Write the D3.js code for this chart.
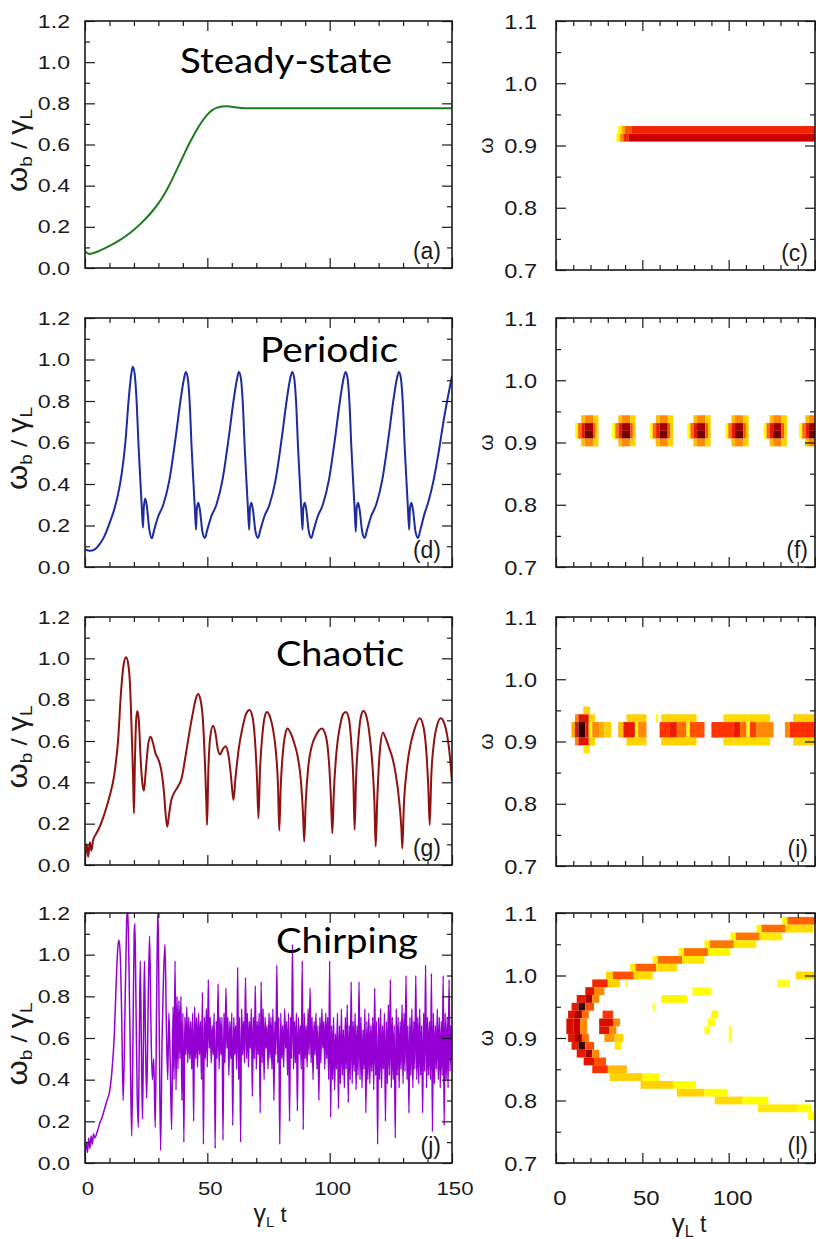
<!DOCTYPE html>
<html><head><meta charset="utf-8">
<script src="https://cdn.jsdelivr.net/npm/d3@7/dist/d3.min.js"></script>
<style>
html,body{margin:0;padding:0;background:#fff;}
svg{display:block;font-family:'Liberation Sans',Arial,sans-serif;}
</style></head><body>
<svg id="chart" width="816" height="1239"></svg>
<script>
// ---------------- DATA ----------------
const timeMajor=[0,50,100,150];
const timeMinor=[10,20,30,40,60,70,80,90,110,120,130,140];
const timeLabelsLeft=[0,50,100,150];
const timeLabelsRight=[0,50,100];
const ampMajor=[0,0.2,0.4,0.6,0.8,1.0,1.2];
const ampMinor=[0.1,0.3,0.5,0.7,0.9,1.1];
const freqMajor=[0.7,0.8,0.9,1.0,1.1];
const freqMinor=[0.75,0.85,0.95,1.05];
const regimeNames=["Steady-state","Periodic","Chaotic","Chirping"];
const ampLetters=["(a)","(d)","(g)","(j)"];
const freqLetters=["(c)","(f)","(i)","(l)"];

// (a) steady-state
const steadyT=[0,1.5,3,5,8,11,14,17,20,23,26,28,30,32,34,36,38,40,42,44,46,48,50,52,54,56,58,60,63,67,80,100,120,150];
const steadyV=[0.082,0.069,0.071,0.079,0.095,0.113,0.134,0.158,0.186,0.218,0.255,0.283,0.314,0.35,0.392,0.44,0.49,0.54,0.59,0.635,0.678,0.714,0.745,0.767,0.779,0.785,0.786,0.783,0.779,0.776,0.776,0.776,0.776,0.776];

// (d) periodic
const periodicPts=[[0,0.085],[2,0.078],[4,0.085],[6,0.11],[8,0.15],[10,0.21],[12,0.28],[13.5,0.35],[15,0.45],[16.5,0.6],[17.8,0.8],[18.8,0.92],[19.5,0.965],
[20.3,0.93],[21.1,0.8],[21.9,0.58],[22.7,0.4],[23.2,0.29],[23.7,0.19],[24.0,0.28],[24.6,0.33],[25.2,0.3],[26.3,0.18],[27.3,0.138],[28.3,0.18],[29.8,0.24],[32,0.3],[34.5,0.42],[37,0.62],[39,0.8],[40.5,0.91],[41.2,0.94],
[42.0,0.91],[42.8,0.79],[43.6,0.57],[44.4,0.39],[44.9,0.28],[45.4,0.18],[45.7,0.28],[46.3,0.31],[46.9,0.28],[48.0,0.17],[49.0,0.14],[50.0,0.18],[51.5,0.24],[53.7,0.3],[56.2,0.42],[58.7,0.62],[60.7,0.8],[62.2,0.91],[62.9,0.94],
[63.7,0.91],[64.5,0.79],[65.3,0.57],[66.1,0.39],[66.6,0.28],[67.1,0.18],[67.4,0.28],[68.0,0.31],[68.6,0.28],[69.7,0.17],[70.7,0.14],[71.7,0.18],[73.2,0.24],[75.4,0.3],[77.9,0.42],[80.4,0.62],[82.4,0.8],[83.9,0.91],[84.7,0.94],
[85.5,0.91],[86.3,0.79],[87.1,0.57],[87.9,0.39],[88.4,0.28],[88.9,0.18],[89.2,0.28],[89.8,0.31],[90.4,0.28],[91.5,0.17],[92.5,0.14],[93.5,0.18],[95.0,0.24],[97.2,0.3],[99.7,0.42],[102.2,0.62],[104.2,0.8],[105.7,0.91],[106.5,0.94],
[107.3,0.91],[108.1,0.79],[108.9,0.57],[109.7,0.39],[110.2,0.28],[110.7,0.17],[111.0,0.28],[111.6,0.31],[112.2,0.28],[113.3,0.17],[114.3,0.14],[115.3,0.18],[116.8,0.24],[119.0,0.3],[121.5,0.42],[124.0,0.62],[126.0,0.8],[127.5,0.91],[128.3,0.94],
[129.1,0.91],[129.9,0.79],[130.7,0.57],[131.5,0.39],[132.0,0.28],[132.5,0.18],[132.8,0.28],[133.4,0.31],[134.0,0.28],[135.1,0.17],[136.1,0.14],[137.1,0.18],[138.6,0.25],[140.5,0.32],[142.5,0.42],[144.5,0.55],[146.5,0.7],[148.5,0.83],[150,0.92]];

// (g) chaotic
const chaoticPts=[[0,0.03],[0.7,0.1],[1.3,0.04],[2,0.11],[2.6,0.07],[3.3,0.12],[4.5,0.15],[6,0.185],[8,0.25],[10,0.33],[12,0.44],[13.5,0.6],[14.8,0.85],[15.8,0.97],[16.8,1.005],[17.7,0.97],[18.5,0.85],[19.2,0.6],[19.7,0.4],[20.0,0.25],[20.4,0.5],[20.9,0.7],[21.4,0.745],[22.0,0.7],[22.8,0.5],[23.5,0.39],[24.1,0.36],[24.8,0.45],[25.8,0.58],[26.8,0.62],[27.8,0.59],[28.8,0.54],[30,0.51],[31.3,0.45],[32.3,0.35],[33.0,0.24],[33.6,0.185],[34.3,0.24],[35.2,0.31],[36.5,0.35],[38,0.38],[39.5,0.42],[41,0.52],[42.5,0.63],[44,0.73],[45.2,0.8],[46.2,0.827],[47.2,0.8],[48.2,0.7],[49.0,0.5],[49.6,0.3],[49.9,0.194],[50.4,0.45],[51.2,0.62],[52.3,0.674],[53.3,0.64],[54.3,0.56],[55.2,0.535],[56.3,0.56],[57.5,0.575],[58.5,0.54],[59.5,0.45],[60.2,0.36],[60.7,0.315],[61.5,0.42],[62.8,0.56],[64.3,0.66],[65.8,0.73],[67.2,0.75],[68.4,0.72],[69.5,0.6],[70.3,0.42],[70.9,0.226],[71.5,0.45],[72.5,0.63],[73.5,0.72],[74.4,0.74],[75.5,0.72],[76.8,0.66],[78,0.55],[78.9,0.38],[79.4,0.166],[80,0.38],[81,0.56],[82,0.64],[82.8,0.661],[84,0.64],[85.5,0.59],[87,0.52],[88.3,0.4],[89.1,0.25],[89.6,0.113],[90.2,0.3],[91.3,0.48],[92.8,0.58],[94.5,0.63],[96.8,0.66],[98.5,0.62],[99.7,0.5],[100.5,0.33],[101.1,0.153],[101.7,0.35],[102.8,0.55],[104.2,0.67],[105.5,0.73],[106.6,0.74],[107.8,0.71],[108.9,0.58],[109.7,0.4],[110.2,0.17],[110.8,0.42],[111.8,0.62],[112.8,0.72],[113.8,0.745],[115,0.72],[116.3,0.63],[117.5,0.48],[118.3,0.3],[118.8,0.089],[119.4,0.3],[120.5,0.55],[121.8,0.64],[123,0.61],[124.5,0.56],[125.6,0.52],[127,0.44],[128.5,0.3],[129.3,0.18],[129.7,0.08],[130.3,0.28],[131.5,0.46],[133,0.58],[134.5,0.65],[136.8,0.71],[138.3,0.67],[139.5,0.55],[140.3,0.38],[140.9,0.194],[141.5,0.42],[142.7,0.6],[144,0.68],[145.4,0.71],[146.7,0.69],[148,0.63],[149.2,0.52],[150,0.4]];

// (j) chirping: early part as (t, value) pairs, then a dense sampled part
const chirpEarly=[[0,0.03],[0.5,0.1],[1,0.05],[1.5,0.12],[2,0.07],[2.5,0.13],[3,0.09],[3.5,0.14],[4,0.12],[5,0.15],[6,0.19],[7,0.22],[8,0.26],[9,0.3],[10,0.34],[11,0.44],[12,0.62],[12.8,0.88],[13.4,1.03],[13.9,1.07],[14.4,1.0],[15.0,0.7],[15.6,0.3],[16.3,0.7],[17.0,1.15],[17.4,1.23],[17.9,1.0],[18.6,0.45],[19.1,0.13],[19.6,0.6],[20.1,1.1],[20.4,1.15],[20.8,0.8],[21.3,0.35],[21.8,0.17],[22.2,0.6],[22.6,0.97],[23.0,0.6],[23.5,0.21],[23.9,0.6],[24.3,0.97],[24.7,0.6],[25.2,0.31],[25.8,0.75],[26.4,1.09],[26.9,0.7],[27.5,0.4],[28.1,0.5],[28.7,0.17],[29.3,0.8],[29.8,1.23],[30.3,0.7],[30.9,0.06],[31.5,0.6],[32.1,0.9],[32.7,1.05],[33.2,0.7],[33.8,0.4],[34.3,0.72],[34.8,0.5],[35.4,0.16]];
const chirpDenseStart=36, chirpDenseStep=0.4;
const chirpDense=[
0.75,0.40,0.97,0.35,0.80,0.45,0.78,0.50,0.80,0.30,0.72,0.10,0.70,0.52,0.75,0.48,0.70,0.50,0.68,0.45,0.72,0.20,0.75,0.50,0.70,
0.46,0.72,0.52,0.68,0.40,0.82,0.09,0.70,0.50,0.74,0.46,0.88,0.55,0.70,0.48,0.66,0.52,0.72,0.07,0.68,0.50,0.86,0.45,0.70,0.52,
0.70,0.11,0.72,0.48,0.84,0.55,0.70,0.42,0.68,0.50,0.72,0.18,0.70,0.52,0.66,0.45,0.94,0.40,0.70,0.10,0.74,0.52,0.68,0.48,0.89,
0.50,0.72,0.46,0.68,0.55,0.74,0.32,0.70,0.50,0.85,0.45,0.68,0.52,0.72,0.24,0.87,0.48,0.74,0.40,0.70,0.55,0.66,0.45,0.72,0.50,
0.70,0.45,0.74,0.30,0.68,0.52,0.95,0.48,0.70,0.09,0.72,0.50,0.66,0.46,0.74,0.55,0.68,0.42,0.72,0.20,0.70,0.50,1.05,0.45,0.68,
0.48,0.72,0.25,0.70,0.52,0.66,0.45,0.97,0.16,0.72,0.50,0.66,0.46,0.74,0.52,0.84,0.48,0.70,0.40,0.68,0.52,0.72,0.45,0.66,0.30,
0.70,0.48,0.74,0.55,0.68,0.45,0.72,0.50,0.70,0.40,0.97,0.22,0.66,0.40,0.70,0.35,0.62,0.45,0.72,0.26,0.66,0.38,0.74,0.42,0.64,
0.36,0.70,0.45,0.76,0.29,0.66,0.40,0.87,0.38,0.68,0.44,0.72,0.35,0.66,0.42,0.87,0.40,0.70,0.36,0.64,0.45,0.74,0.24,0.68,0.40,
0.72,0.38,0.66,0.44,0.70,0.35,0.84,0.42,0.68,0.09,0.70,0.40,0.74,0.36,0.66,0.45,0.72,0.20,0.68,0.38,0.76,0.42,0.88,0.36,0.70,
0.40,0.66,0.12,0.74,0.42,0.70,0.36,0.68,0.45,0.76,0.38,0.72,0.44,0.90,0.40,0.66,0.24,0.70,0.42,0.74,0.36,0.68,0.45,0.90,0.40,
0.70,0.38,0.74,0.42,0.66,0.24,0.72,0.44,0.95,0.36,0.70,0.42,0.68,0.40,0.91,0.15,0.72,0.38,0.66,0.45,0.74,0.40,0.70,0.36,0.68,
0.42,0.90,0.18,0.72,0.40,0.70,0.36,0.88,0.44,0.66,0.50];

// spectrogram cells: [t0, t1, omegaLow, omegaHigh, intensity]
const omegaBin=0.0125;
const cSegments=[[35,37,0.9125,0.9125,0.22],[37,39,0.9125,0.9125,0.45],[39,42,0.9125,0.9125,0.65],[42,150,0.9125,0.9125,0.8],
[36,38,0.925,0.925,0.22],[38,40,0.925,0.925,0.4],[40,44,0.925,0.925,0.55],[44,150,0.925,0.925,0.66]];
const fCenters=[19.6,41.1,62.8,84.6,106.6,128.7,149.4];
const fProfile=[[-8.6,-6.8,0.9125,0.925,0.2],[-6.8,-4.8,0.9125,0.925,0.5],[-4.8,-2.9,0.9125,0.925,0.7],[-2.9,1.9,0.9125,0.9125,0.92],[-2.9,1.9,0.925,0.925,0.86],[1.9,3.4,0.9125,0.925,0.55],[3.4,5.0,0.9125,0.925,0.32],
[-5.0,-2.9,0.9,0.9,0.35],[-2.9,1.9,0.9,0.9,0.45],[1.9,5.0,0.9,0.9,0.3],
[-5.0,-2.9,0.9375,0.9375,0.35],[-2.9,1.9,0.9375,0.9375,0.45],[1.9,5.0,0.9375,0.9375,0.3]];
const iSegments=[[9,11,0.9125,0.925,0.4],[11,13,0.9125,0.925,0.72],[13,17,0.9125,0.925,0.98],[17,19,0.9125,0.925,0.7],[19,21,0.9125,0.925,0.22],[21,25,0.9125,0.925,0.45],[25,28,0.9125,0.925,0.38],[28,32,0.9125,0.925,0.3],
[11,13,0.9,0.9,0.45],[13,19,0.9,0.9,0.72],[19,22.6,0.9,0.9,0.3],
[11,13,0.9375,0.9375,0.45],[13,19,0.9375,0.9375,0.72],[19,22.6,0.9375,0.9375,0.3],
[15.8,19.7,0.8875,0.8875,0.25],[15.8,19.7,0.95,0.95,0.3],
[36,39,0.9125,0.925,0.35],[39,45.7,0.9125,0.925,0.7],[45.7,47.6,0.9125,0.925,0.22],[47.6,52.4,0.9125,0.925,0.45],
[40.8,52.4,0.9,0.9,0.3],[40.8,52.4,0.9375,0.9375,0.3],
[57.9,59.2,0.9375,0.9375,0.2],
[60,66,0.9125,0.925,0.6],[66,70,0.9125,0.925,0.68],[70,75.6,0.9125,0.925,0.5],[75.6,77.5,0.9125,0.925,0.2],[77.5,86,0.9125,0.925,0.55],
[61,81.4,0.9,0.9,0.3],[61,81.4,0.9375,0.9375,0.3],
[90,103,0.9125,0.925,0.6],[103,106.6,0.9125,0.925,0.7],[106.6,110.4,0.9125,0.925,0.5],[110.4,112.3,0.9125,0.925,0.2],[112.3,116,0.9125,0.925,0.58],[116,126,0.9125,0.925,0.45],
[96.9,124,0.9,0.9,0.28],[96.9,124,0.9375,0.9375,0.28],
[132.6,135.5,0.9125,0.925,0.45],[135.5,150,0.9125,0.925,0.62],
[137.4,150,0.9,0.9,0.3],[137.4,150,0.9375,0.9375,0.3]];
const lSegments=[
[131,134,1.0875,1.0875,0.22],[134,150,1.0875,1.0875,0.52],
[116,119,1.075,1.075,0.22],[119,133,1.075,1.075,0.5],[133,149,1.075,1.075,0.28],
[101,104,1.0625,1.0625,0.22],[104,118,1.0625,1.0625,0.48],[118,131,1.0625,1.0625,0.25],
[86,89,1.05,1.05,0.22],[89,103,1.05,1.05,0.48],[103,116,1.05,1.05,0.25],
[71,74,1.0375,1.0375,0.22],[74,88,1.0375,1.0375,0.5],[88,101,1.0375,1.0375,0.22],
[56,59,1.025,1.025,0.22],[59,73,1.025,1.025,0.5],[73,86,1.025,1.025,0.25],
[43,46,1.0125,1.0125,0.25],[46,58,1.0125,1.0125,0.52],[58,70,1.0125,1.0125,0.28],
[29,33,1.0,1.0,0.3],[33,45,1.0,1.0,0.55],[45,56,1.0,1.0,0.28],
[21,30,0.9875,0.9875,0.65],[30,37,0.9875,0.9875,0.3],
[17,22,0.975,0.975,0.72],[22,28,0.975,0.975,0.45],
[12,17,0.9625,0.9625,0.7],[17,21,0.9625,0.9625,0.85],[21,25,0.9625,0.9625,0.45],
[9,13,0.95,0.95,0.7],[13,17,0.95,0.95,0.97],[17,22,0.95,0.95,0.55],
[7,11,0.9375,0.9375,0.72],[11,15,0.9375,0.9375,0.85],[15,19,0.9375,0.9375,0.5],
[6,10,0.9125,0.925,0.75],[10,14,0.9125,0.925,0.8],[14,18,0.9125,0.925,0.45],
[7,11,0.9,0.9,0.72],[11,15,0.9,0.9,0.85],[15,19,0.9,0.9,0.5],
[9,13,0.8875,0.8875,0.7],[13,17,0.8875,0.8875,0.97],[17,22,0.8875,0.8875,0.55],
[12,17,0.875,0.875,0.7],[17,21,0.875,0.875,0.85],[21,25,0.875,0.875,0.45],
[16,22,0.8625,0.8625,0.72],[22,29,0.8625,0.8625,0.55],
[21,30,0.85,0.85,0.62],[30,41,0.85,0.85,0.35],
[31,50,0.8375,0.8375,0.3],[50,60,0.8375,0.8375,0.2],
[49,68,0.825,0.825,0.3],[68,81,0.825,0.825,0.2],
[70,86,0.8125,0.8125,0.3],[86,99,0.8125,0.8125,0.2],
[92,108,0.8,0.8,0.28],[108,123,0.8,0.8,0.2],
[117,140,0.7875,0.7875,0.25],[140,148,0.7875,0.7875,0.2],
[146,150,0.775,0.775,0.2],
[27,33,0.9375,0.9375,0.6],[25,33,0.925,0.925,0.75],[33,37,0.925,0.925,0.45],[25,31,0.9125,0.9125,0.72],[31,35,0.9125,0.9125,0.45],[28,34,0.9,0.9,0.42],[34,39,0.9,0.9,0.3],[34,38,0.8875,0.8875,0.25],
[40,41.5,0.9875,0.9875,0.12],[61,76,0.9625,0.9625,0.22],[56,57.5,0.95,0.95,0.15],[79,90,0.975,0.975,0.18],[90,94,0.9375,0.9375,0.22],[88,92,0.925,0.925,0.2],[86,89,0.9125,0.9125,0.18],[100,102,0.9,0.9125,0.15],[128,135,0.9875,0.9875,0.15],[139,150,1.0,1.0,0.28]];

// ---------------- STYLE / LAYOUT ----------------
const lineColors=['#1f7a1f','#1c2b9e','#8e1212','#9400d3'];
const heatStops=[0,0.2,0.4,0.6,0.8,0.95,1];
const heatColors=['#ffffb0','#ffff00','#ffa500','#ff3300','#cc0000','#5a0000','#200000'];
const heat=d3.scaleLinear().domain(heatStops).range(heatColors).clamp(true);
const leftX=[85,452], rightX=[556,815];
const leftRows=[[21,268],[318,567],[617,865],[913,1163]];
const rightRows=[[21,270],[318,567],[617,866],[913,1163]];
const titlePos=[[180,73,212],[260,362,138],[276,666,128],[276,953,142]];
const ink='#1a1a1a';

const svg=d3.select('#chart');
svg.append('rect').attr('width',816).attr('height',1239).attr('fill','#fff');
const fmt=d3.format('.1f');

function stext(g,x,y,str,anchor,size,sx){
  return g.append('text').attr('transform',`translate(${x},${y}) scale(${sx},1)`)
    .attr('text-anchor',anchor).attr('fill',ink).style('font-size',size+'px').text(str);
}

function makePanel(xr,yr,domain,id){
  const x=d3.scaleLinear().domain([0,150]).range(xr);
  const y=d3.scaleLinear().domain(domain).range([yr[1],yr[0]]);
  const g=svg.append('g');
  g.append('clipPath').attr('id',id).append('rect')
    .attr('x',xr[0]).attr('y',yr[0]).attr('width',xr[1]-xr[0]).attr('height',yr[1]-yr[0]);
  const plot=g.append('g').attr('clip-path',`url(#${id})`);
  return {x,y,g,plot,xr,yr};
}

function drawFrame(p,yMaj,yMin){
  const {x,y,g,xr,yr}=p;
  const add=(axis,tr)=>{
    const a=g.append('g').attr('transform',tr).call(axis);
    a.select('.domain').remove();
    a.selectAll('text').remove();
    a.selectAll('line').attr('stroke',ink).attr('stroke-width',1.2);
  };
  add(d3.axisBottom(x).tickValues(timeMajor).tickSize(-10).tickFormat(''),`translate(0,${yr[1]})`);
  add(d3.axisBottom(x).tickValues(timeMinor).tickSize(-5).tickFormat(''),`translate(0,${yr[1]})`);
  add(d3.axisTop(x).tickValues(timeMajor).tickSize(-10).tickFormat(''),`translate(0,${yr[0]})`);
  add(d3.axisTop(x).tickValues(timeMinor).tickSize(-5).tickFormat(''),`translate(0,${yr[0]})`);
  add(d3.axisLeft(y).tickValues(yMaj).tickSize(-10).tickFormat(''),`translate(${xr[0]},0)`);
  add(d3.axisLeft(y).tickValues(yMin).tickSize(-5).tickFormat(''),`translate(${xr[0]},0)`);
  add(d3.axisRight(y).tickValues(yMaj).tickSize(-10).tickFormat(''),`translate(${xr[1]},0)`);
  add(d3.axisRight(y).tickValues(yMin).tickSize(-5).tickFormat(''),`translate(${xr[1]},0)`);
  g.append('rect').attr('x',xr[0]).attr('y',yr[0]).attr('width',xr[1]-xr[0]).attr('height',yr[1]-yr[0])
    .attr('fill','none').attr('stroke',ink).attr('stroke-width',1.6);
}

// series for the left panels
const chirpPts=chirpEarly.concat(chirpDense.map((v,i)=>[chirpDenseStart+i*chirpDenseStep,v]));
const leftSeries=[steadyT.map((t,i)=>[t,steadyV[i]]),periodicPts,chaoticPts,chirpPts];
const fCells=fCenters.flatMap(c=>fProfile.map(s=>[c+s[0],c+s[1],s[2],s[3],s[4]]));
const rightSeries=[cSegments,fCells,iSegments,lSegments];

for(let r=0;r<4;r++){
  // ---- left: amplitude vs time ----
  const p=makePanel(leftX,leftRows[r],[0,1.2],'clipL'+r);
  const curve=r===0?d3.curveCatmullRom:d3.curveMonotoneX;
  const line=d3.line().x(d=>p.x(d[0])).y(d=>p.y(d[1])).curve(curve);
  p.plot.append('path').datum(leftSeries[r]).attr('d',line).attr('fill','none')
    .attr('stroke',lineColors[r]).attr('stroke-width',r===3?1.5:2).attr('stroke-linejoin','round');
  drawFrame(p,ampMajor,ampMinor);
  ampMajor.forEach(v=>stext(p.g,70,p.y(v)+6.5,fmt(v),'end',18.5,1.25));
  // y title
  const yt=p.g.append('text').attr('fill',ink).attr('text-anchor','middle')
    .attr('transform',`translate(27,${(p.yr[0]+p.yr[1])/2+6}) rotate(-90) scale(1.12,1)`);
  yt.append('tspan').text('ω').style('font-size','29px');
  yt.append('tspan').text('b').style('font-size','17px').attr('dy',5);
  yt.append('tspan').text(' / ').style('font-size','23px').attr('dy',-5);
  yt.append('tspan').text('γ').style('font-size','27px');
  yt.append('tspan').text('L').style('font-size','17px').attr('dy',5);
  // letter
  p.g.append('text').attr('x',441).attr('y',p.yr[1]-9).attr('text-anchor','end').attr('fill',ink)
    .style('font-size','23px').text(ampLetters[r]);
  // regime title
  const tp=titlePos[r];
  svg.append('text').attr('x',tp[0]).attr('y',tp[1]).attr('textLength',tp[2]).attr('lengthAdjust','spacingAndGlyphs')
    .style('font-family','Lato, "Open Sans", sans-serif').style('font-size','34px').attr('fill','#000').text(regimeNames[r]);
  if(r===3){
    timeLabelsLeft.forEach(v=>stext(p.g,p.x(v)+3,1195,String(v),'middle',18.5,1.2));
    const xt=p.g.append('text').attr('fill',ink).attr('text-anchor','middle').attr('transform','translate(270,1222)');
    xt.append('tspan').text('γ').style('font-size','25px');
    xt.append('tspan').text('L').style('font-size','15px').attr('dy',5);
    xt.append('tspan').text(' t').style('font-size','22px').attr('dy',-5);
  }

  // ---- right: spectrogram ----
  const q=makePanel(rightX,rightRows[r],[0.7,1.1],'clipR'+r);
  q.plot.selectAll('rect.cell').data(rightSeries[r]).join('rect').attr('class','cell')
    .attr('x',d=>q.x(d[0])).attr('width',d=>q.x(d[1])-q.x(d[0]))
    .attr('y',d=>q.y(d[3]+omegaBin/2)).attr('height',d=>q.y(d[2]-omegaBin/2)-q.y(d[3]+omegaBin/2))
    .attr('fill',d=>heat(d[4]));
  drawFrame(q,freqMajor,freqMinor);
  freqMajor.forEach(v=>stext(q.g,537,q.y(v)+7.5,fmt(v),'end',20.5,1.15));
  q.g.append('text').attr('fill',ink).attr('text-anchor','middle')
    .attr('transform',`translate(493,${q.y(0.9)}) rotate(-90)`).style('font-size','21px').text('ω');
  q.g.append('text').attr('x',808).attr('y',q.yr[1]-9).attr('text-anchor','end').attr('fill',ink)
    .style('font-size','23px').text(freqLetters[r]);
  if(r===3){
    timeLabelsRight.forEach(v=>stext(q.g,q.x(v)+4,1205,String(v),'middle',21,1.14));
    const xt=q.g.append('text').attr('fill',ink).attr('text-anchor','middle').attr('transform','translate(689,1232)');
    xt.append('tspan').text('γ').style('font-size','26px');
    xt.append('tspan').text('L').style('font-size','16px').attr('dy',5);
    xt.append('tspan').text(' t').style('font-size','23px').attr('dy',-5);
  }
}
</script></body></html>
